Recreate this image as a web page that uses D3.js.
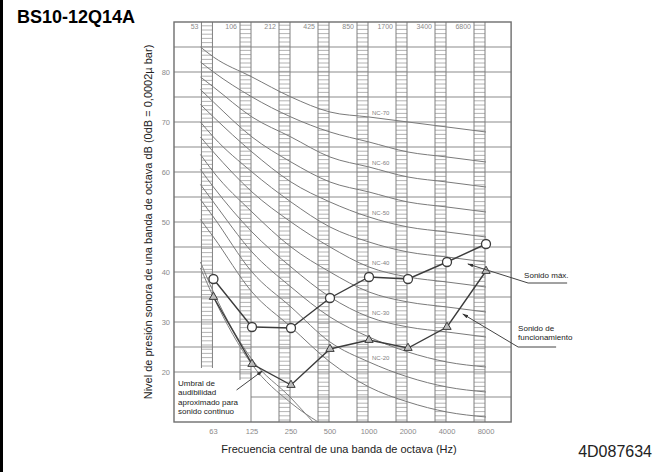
<!DOCTYPE html>
<html>
<head>
<meta charset="utf-8">
<script src="https://cdn.jsdelivr.net/npm/d3@7"></script>
<style>
  body { margin: 0; background: #fff; }
  svg { display: block; font-family: "Liberation Sans", Arial, sans-serif; }
</style>
</head>
<body>
<div id="chart-container"></div>
<script>
// Octave band centres and labels
const freqs = [63, 125, 250, 500, 1000, 2000, 4000, 8000];
const freqLabels = ["63", "125", "250", "500", "1000", "2000", "4000", "8000"];
const bandLabels = ["53", "106", "212", "425", "850", "1700", "3400", "6800"];
const stripBottoms = [20.8, 18.4, 10, 10, 10, 10, 10, 10];
const yTicks = [20, 30, 40, 50, 60, 70, 80];
const gridLevels = [15, 20, 25, 30, 35, 40, 45, 50, 55, 60, 65, 70, 75, 80, 85];

// NC curves (first value is where the curve starts, left of 63 Hz)
const ncFreqs = [50, 63, 125, 250, 500, 1000, 2000, 4000, 8000];
const ncNames = ["NC-70", "NC-65", "NC-60", "NC-55", "NC-50", "NC-45", "NC-40", "NC-35", "NC-30", "NC-25", "NC-20", "NC-15"];
const ncLevels = [
  [85, 83, 79, 75, 72, 71, 70, 69, 68],
  [82, 80, 75, 71, 68, 66, 64, 63, 62],
  [79, 77, 71, 67, 63, 61, 59, 58, 57],
  [76.5, 74, 67, 62, 58, 56, 54, 53, 52],
  [73.5, 71, 64, 58, 54, 51, 49, 48, 47],
  [70, 67, 60, 54, 49, 46, 44, 43, 42],
  [67, 64, 56, 50, 45, 41, 39, 38, 37],
  [63.5, 60, 52, 45, 40, 36, 34, 33, 32],
  [60.5, 57, 48, 41, 35, 31, 29, 28, 27],
  [57.5, 54, 44, 37, 31, 27, 24, 22, 21],
  [54.5, 51, 40, 33, 26, 22, 19, 17, 16],
  [50.5, 47, 36, 29, 22, 17, 14, 12, 11]
];
const ncLabelled = ["NC-70", "NC-60", "NC-50", "NC-40", "NC-30", "NC-20"];

// Approximate threshold of hearing (two close lines)
const thrFreqsA = [50, 63, 125, 250, 370];
const thrLevelsA = [42, 36, 22.5, 14.8, 10];
const thrFreqsB = [50, 63, 125, 250, 405];
const thrLevelsB = [40.8, 35, 21.5, 13.8, 10];

// Measured sound levels
const maxSound = [38.6, 29.0, 28.8, 34.8, 39.0, 38.6, 42.0, 45.6];
const opSound = [35.0, 21.6, 17.4, 24.6, 26.4, 24.8, 29.0, 40.2];

const W = 665, H = 472;

// Scales: 39 px per octave, 5 px per dB
const x = d3.scaleLog().base(2).domain([62.5, 8000]).range([213, 486]);
const y = d3.scaleLinear().domain([10, 90]).range([422, 22]);
const fLeft = 31.25, fRight = 12500;
const x0 = x(fLeft), x1 = x(fRight);

const svg = d3.select("#chart-container")
  .append("svg")
    .attr("width", W)
    .attr("height", H);

// Left page border
svg.append("line")
  .attr("x1", 1.5).attr("x2", 1.5)
  .attr("y1", 0).attr("y2", H)
  .attr("stroke", "#000").attr("stroke-width", 3);

// Title
svg.append("text")
  .attr("x", 17).attr("y", 23)
  .style("font-size", "18px")
  .style("font-weight", "bold")
  .text("BS10-12Q14A");

const plot = svg.append("g");

// Horizontal grid lines
plot.selectAll("line.grid")
  .data(gridLevels)
  .join("line")
    .attr("class", "grid")
    .attr("x1", d => d === 15 ? x(125) - 1 : x0)
    .attr("x2", x1)
    .attr("y1", d => y(d)).attr("y2", d => y(d))
    .attr("stroke", "#8c8c8c").attr("stroke-width", 1.1);

// Hatched octave band strips
const strips = plot.selectAll("g.strip")
  .data(freqs.map((f, i) => ({ f, bottom: stripBottoms[i] })))
  .join("g").attr("class", "strip");

strips.each(function (d) {
  const g = d3.select(this);
  const l = x(d.f) - 12, r = x(d.f) - 1;
  g.selectAll("line.rung")
    .data(d3.range(d.bottom + 0.4, 90, 0.84))
    .join("line")
      .attr("x1", l).attr("x2", r)
      .attr("y1", v => y(v)).attr("y2", v => y(v))
      .attr("stroke", "#a0a0a0").attr("stroke-width", 0.8);
  g.append("line")
    .attr("x1", l).attr("x2", l)
    .attr("y1", y(90)).attr("y2", y(d.bottom))
    .attr("stroke", "#808080");
  g.append("line")
    .attr("x1", r).attr("x2", r)
    .attr("y1", y(90)).attr("y2", y(d.bottom))
    .attr("stroke", "#808080");
});

// Box edge next to the threshold label
plot.append("line")
  .attr("x1", x(125) - 1).attr("x2", x(125) - 1)
  .attr("y1", y(20)).attr("y2", y(10))
  .attr("stroke", "#808080");

// Plot frame
plot.append("rect")
  .attr("x", x0).attr("y", y(90))
  .attr("width", x1 - x0).attr("height", y(10) - y(90))
  .attr("fill", "none")
  .attr("stroke", "#6e6e6e").attr("stroke-width", 1.4);

// Band edge labels along the top
plot.selectAll("text.band")
  .data(bandLabels)
  .join("text")
    .attr("class", "band")
    .attr("x", (d, i) => x(freqs[i]) - 15)
    .attr("y", 29)
    .attr("text-anchor", "end")
    .style("font-size", "7px")
    .style("fill", "#8a8a8a")
    .text(d => d);

// Y tick labels
plot.selectAll("text.ytick")
  .data(yTicks)
  .join("text")
    .attr("class", "ytick")
    .attr("x", x0 - 4)
    .attr("y", d => y(d) + 2.5)
    .attr("text-anchor", "end")
    .style("font-size", "7.5px")
    .style("fill", "#8a8a8a")
    .text(d => d);

// X tick labels
plot.selectAll("text.xtick")
  .data(freqLabels)
  .join("text")
    .attr("class", "xtick")
    .attr("x", (d, i) => x(freqs[i]))
    .attr("y", 434)
    .attr("text-anchor", "middle")
    .style("font-size", "7.5px")
    .style("fill", "#8a8a8a")
    .text(d => d);

// NC curves
const ncLine = d3.line()
  .x((d, i) => x(ncFreqs[i]))
  .y(d => y(d))
  .curve(d3.curveMonotoneX);

plot.selectAll("path.nc")
  .data(ncLevels)
  .join("path")
    .attr("class", "nc")
    .attr("fill", "none")
    .attr("stroke", "#7a7a7a")
    .attr("stroke-width", 1)
    .attr("d", ncLine);

plot.selectAll("text.nclabel")
  .data(ncLabelled)
  .join("text")
    .attr("class", "nclabel")
    .attr("x", x(1000) + 3)
    .attr("y", d => y(ncLevels[ncNames.indexOf(d)][5]) - 2)
    .style("font-size", "6px")
    .style("fill", "#808080")
    .text(d => d);

// Threshold of hearing
const thrLine = fs => d3.line()
  .x((d, i) => x(fs[i]))
  .y(d => y(d))
  .curve(d3.curveMonotoneX);

plot.append("path")
  .attr("fill", "none").attr("stroke", "#808080").attr("stroke-width", 1)
  .attr("d", thrLine(thrFreqsA)(thrLevelsA));
plot.append("path")
  .attr("fill", "none").attr("stroke", "#808080").attr("stroke-width", 1)
  .attr("d", thrLine(thrFreqsB)(thrLevelsB));

// Measured series
const seriesLine = d3.line()
  .x((d, i) => x(freqs[i]))
  .y(d => y(d));

plot.append("path")
  .attr("fill", "none").attr("stroke", "#3c3c3c").attr("stroke-width", 1.4)
  .attr("d", seriesLine(maxSound));
plot.append("path")
  .attr("fill", "none").attr("stroke", "#3c3c3c").attr("stroke-width", 1.4)
  .attr("d", seriesLine(opSound));

plot.selectAll("circle.max")
  .data(maxSound)
  .join("circle")
    .attr("class", "max")
    .attr("cx", (d, i) => x(freqs[i]))
    .attr("cy", d => y(d))
    .attr("r", 4.5)
    .attr("fill", "#fff")
    .attr("stroke", "#3c3c3c").attr("stroke-width", 1.3);

plot.selectAll("path.op")
  .data(opSound)
  .join("path")
    .attr("class", "op")
    .attr("transform", (d, i) => `translate(${x(freqs[i])},${y(d)})`)
    .attr("d", d3.symbol(d3.symbolTriangle, 30))
    .attr("fill", "#bbb")
    .attr("stroke", "#3c3c3c").attr("stroke-width", 1);

// Arrow marker for leaders
svg.append("defs").append("marker")
  .attr("id", "arrow")
  .attr("viewBox", "0 0 10 10")
  .attr("refX", 9).attr("refY", 5)
  .attr("markerWidth", 6).attr("markerHeight", 6)
  .attr("orient", "auto")
  .append("path")
    .attr("d", "M0,2 L10,5 L0,8 Z")
    .attr("fill", "#333");

// Annotation: Sonido máx.
const maxTip = [x(5800), y(41.6)];
svg.append("path")
  .attr("d", `M${x1 + 56},${y(37.8)} L${x1 + 17},${y(37.8)} L${maxTip[0]},${maxTip[1]}`)
  .attr("fill", "none").attr("stroke", "#444").attr("stroke-width", 1)
  .attr("marker-end", "url(#arrow)");
svg.append("text")
  .attr("x", x1 + 13).attr("y", y(38.9))
  .style("font-size", "8px").style("fill", "#222")
  .text("Sonido máx.");

// Annotation: Sonido de funcionamiento
const opTip = [x(5300), y(31.6)];
svg.append("path")
  .attr("d", `M${x1 + 45},${y(25)} L${x1 + 7},${y(25)} L${opTip[0]},${opTip[1]}`)
  .attr("fill", "none").attr("stroke", "#444").attr("stroke-width", 1)
  .attr("marker-end", "url(#arrow)");
svg.append("text")
  .attr("x", x1 + 7).attr("y", y(28.2))
  .style("font-size", "8px").style("fill", "#222")
  .text("Sonido de");
svg.append("text")
  .attr("x", x1 + 7).attr("y", y(26.4))
  .style("font-size", "8px").style("fill", "#222")
  .text("funcionamiento");

// Annotation: threshold label
svg.append("line")
  .attr("x1", x(95)).attr("y1", y(16.4))
  .attr("x2", x(150)).attr("y2", y(20.2))
  .attr("stroke", "#444").attr("stroke-width", 1)
  .attr("marker-end", "url(#arrow)");
["Umbral de", "audibilidad", "aproximado para", "sonido continuo"].forEach((t, i) => {
  svg.append("text")
    .attr("x", x0 + 4)
    .attr("y", 385.5 + i * 9.5)
    .style("font-size", "8px").style("fill", "#222")
    .text(t);
});

// Axis titles
svg.append("text")
  .attr("transform", `translate(152,${(y(90) + y(10)) / 2}) rotate(-90)`)
  .attr("text-anchor", "middle")
  .style("font-size", "11px")
  .style("fill", "#222")
  .text("Nivel de presión sonora de una banda de octava dB (0dB = 0,0002µ bar)");

svg.append("text")
  .attr("x", 339).attr("y", 453)
  .attr("text-anchor", "middle")
  .style("font-size", "11px")
  .style("fill", "#222")
  .text("Frecuencia central de una banda de octava (Hz)");

// Drawing reference
svg.append("text")
  .attr("x", 652).attr("y", 457)
  .attr("text-anchor", "end")
  .style("font-size", "16px")
  .style("fill", "#222")
  .text("4D087634");
</script>
</body>
</html>
